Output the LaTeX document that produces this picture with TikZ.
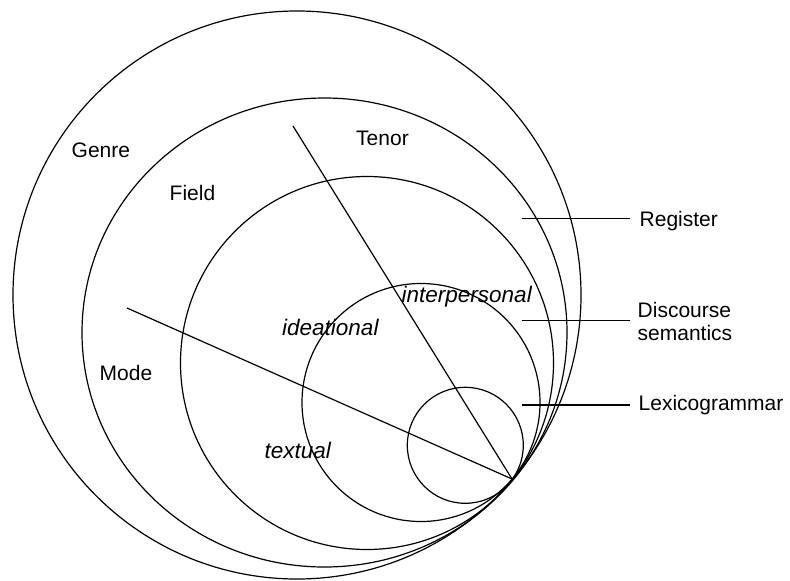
\documentclass[tikz,border=0pt]{standalone}
\usepackage{fontspec}
\setmainfont{Liberation Sans}
\begin{document}
\begin{tikzpicture}[x=1pt,y=-1pt,
  ring/.style={draw=black,line width=1.2pt},
  rule/.style={draw=black,line width=1.2pt},
  lab/.style={inner sep=0pt,anchor=base west,font=\fontsize{21}{23}\selectfont},
  metafn/.style={inner sep=0pt,anchor=base west,font=\fontsize{22.5}{25}\selectfont\itshape},
  side/.style={inner sep=0pt,anchor=base west,font=\fontsize{21}{23}\selectfont}]
\useasboundingbox (0,0) rectangle (790,581);

% common point of tangency
\coordinate (T) at (512,479);

% nested strata, all touching at T
\draw[ring] (297,295) circle[radius=284pt];
\draw[ring] (324.5,332.5) circle[x radius=242.5pt,y radius=234.5pt];
\draw[ring] (367,363) circle[radius=186.5pt];
\draw[ring] (421,402.5) circle[radius=119pt];
\draw[ring] (465.3,445.3) circle[radius=58pt];

% metafunction dividers
\coordinate (tenorTop) at (293,126);
\coordinate (modeTop) at (127,308);
\draw[rule] (tenorTop) -- (T);
\draw[rule] (modeTop) -- (T);

% context labels
\node[lab] (genre) at (71.5,157.5) {Genre};
\node[lab] (field) at (169.5,200) {Field};
\node[lab] (tenor) at (356,145.5) {Tenor};
\node[lab] (mode) at (99.5,380) {Mode};

% metafunction labels
\node[metafn] (ideational) at (282,335) {ideational};
\node[metafn] (textual) at (264.5,458) {textual};
\node[metafn] (interpersonal) at (401.5,302.5) {interpersonal};

% strata names on the right
\node[side] (register) at (639.5,226.5) {Register};
\node[side] (discourse) at (637.5,317.5) {Discourse};
\node[side] (semantics) at (637.5,340) {semantics};
\node[side] (lexico) at (638.5,410.5) {Lexicogrammar};

\coordinate (regL) at (521.5,218.3);
\coordinate (dsL) at (521.5,320.7);
\coordinate (lgL) at (521.5,405);
\draw[rule] (regL) -- ([xshift=-10pt]regL -| register.west);
\draw[rule] (dsL) -- ([xshift=-10pt]dsL -| register.west);
\draw[rule] (lgL) -- ([xshift=-10pt]lgL -| register.west);
\end{tikzpicture}
\end{document}
